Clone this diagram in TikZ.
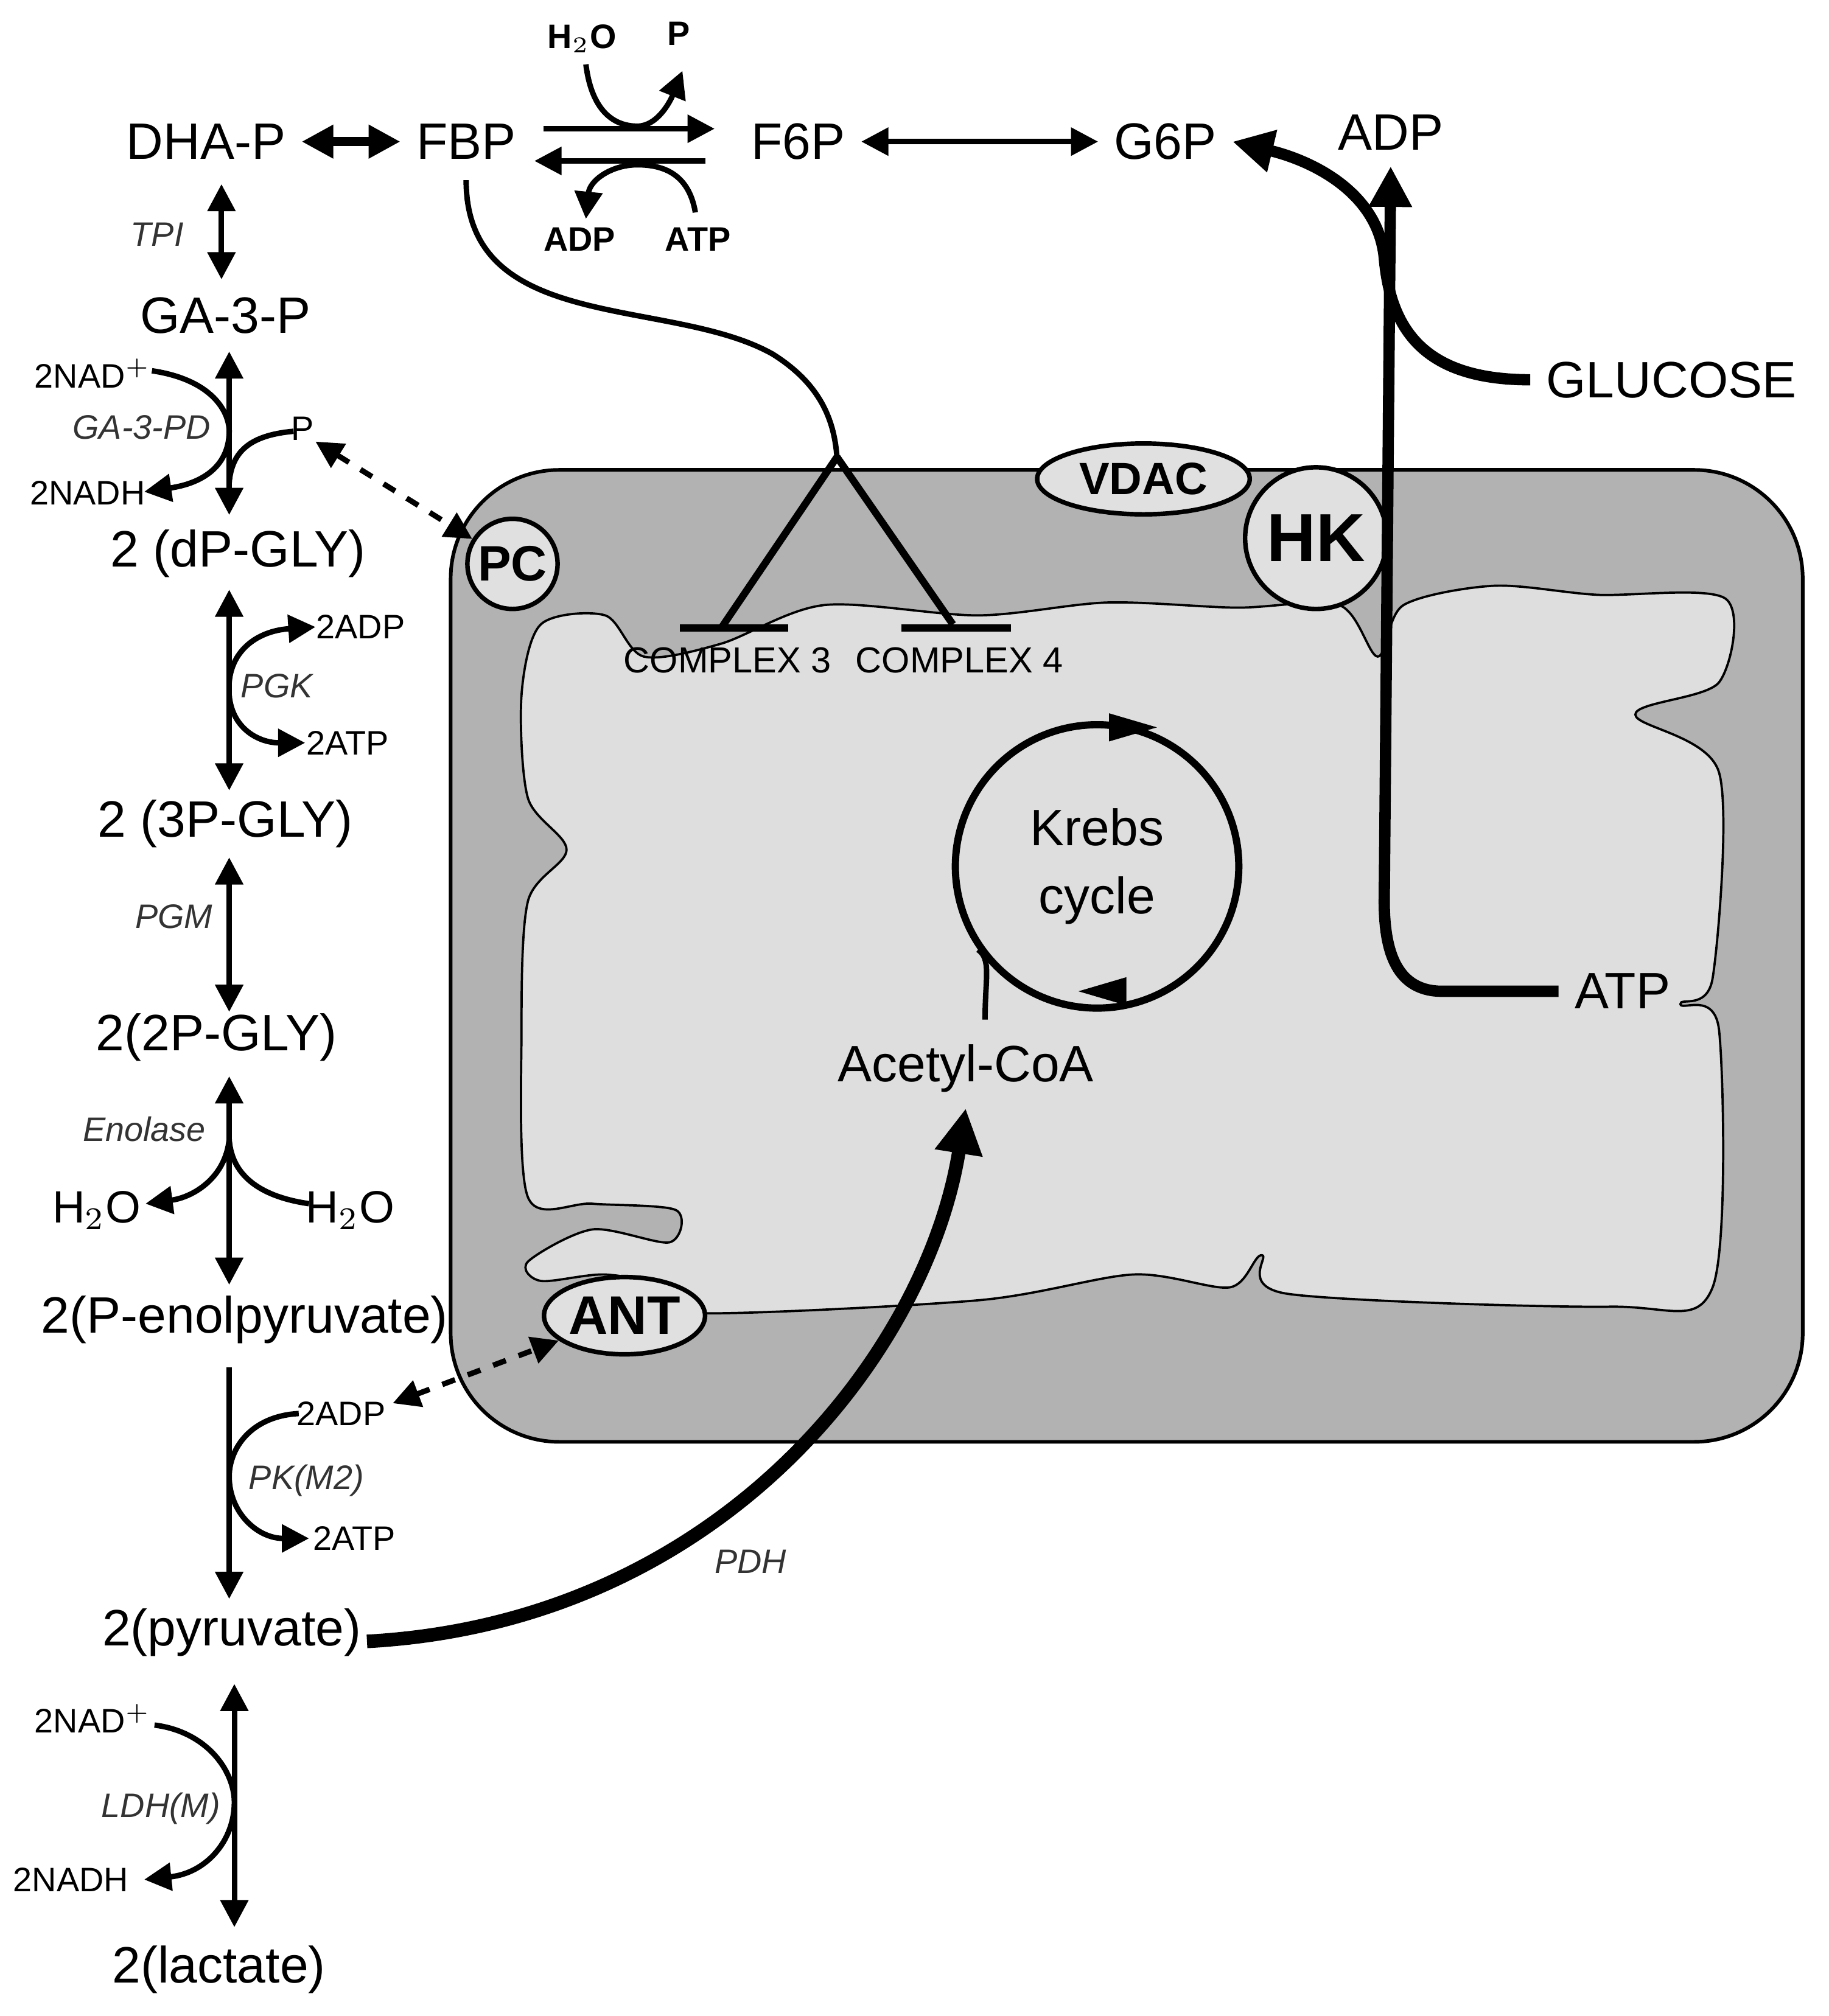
\documentclass[tikz,border=0pt]{standalone}
\usepackage{fontspec}
\setmainfont{Liberation Sans}
\usetikzlibrary{arrows.meta,shapes.geometric}
\begin{document}
\begin{tikzpicture}[x=0.01cm,y=-0.01cm,
 big/.style={font=\fontsize{11.3}{14}\selectfont},
 sm/.style={font=\fontsize{7.5}{9}\selectfont},
 en/.style={font=\fontsize{7.5}{9}\selectfont\itshape, text=black!80},
 bsm/.style={font=\fontsize{7.5}{9}\selectfont\bfseries},
 ar/.style={line width=1.2pt,-{Triangle[length=6pt,width=6pt]}},
 dar/.style={line width=1.2pt,{Triangle[length=6pt,width=6pt]}-{Triangle[length=6pt,width=6pt]}},
 dashar/.style={line width=1.2pt,dashed,{Triangle[length=6pt,width=6pt]}-{Triangle[length=6pt,width=6pt]}},
 prot/.style={draw,line width=1pt,fill=black!12,font=\bfseries}]
\useasboundingbox (0,0) rectangle (1420,1566);
% mitochondrion
\draw[fill=black!30,line width=0.8pt,rounded corners=24pt] (350,365) rectangle (1400,1120);
\draw[fill=black!13,line width=0.5pt] plot[smooth cycle,tension=0.5] coordinates{
(420,485)(470,478)(500,510)(560,500)(640,470)(760,478)(860,468)(960,472)(1040,470)(1070,510)(1090,470)(1160,455)(1240,462)(1340,465)
(1335,530)(1270,555)(1335,600)(1330,760)(1305,780)(1335,800)(1330,1000)(1250,1015)(1000,1005)(980,975)(955,1000)(880,990)(760,1010)(540,1020)
(520,1000)(470,990)(420,995)(410,980)(460,955)(520,965)(525,940)(460,935)(410,930)(405,800)(410,700)(440,660)(410,620)(405,540)};
\node[prot,ellipse,minimum width=1.65cm,minimum height=0.55cm,inner sep=0] (vdac) at (888,372) {\fontsize{10}{12}\selectfont VDAC};
\node[prot,circle,minimum size=1.1cm,inner sep=0] (hk) at (1022,418) {\fontsize{15}{17}\selectfont HK};
\node[prot,circle,minimum size=0.7cm,inner sep=0] (pc) at (398,438) {\fontsize{11}{13}\selectfont PC};
\node[prot,ellipse,minimum width=1.25cm,minimum height=0.6cm,inner sep=0] (ant) at (485,1022) {\fontsize{12}{14}\selectfont ANT};
% complexes
\coordinate (c3l) at (528,488); \coordinate (c3r) at (612,488);
\coordinate (c4l) at (700,488); \coordinate (c4r) at (785,488);
\draw[line width=1.6pt] (c3l)--(c3r); \draw[line width=1.6pt] (c4l)--(c4r);
\node[font=\fontsize{8}{10}\selectfont] (cx3) at (565,513) {COMPLEX 3};
\node[font=\fontsize{8}{10}\selectfont] (cx4) at (745,513) {COMPLEX 4};
% top
\node[big] (dhap) at (160,110) {DHA-P};
\node[big] (fbp) at (362,110) {FBP};
\node[big] (f6p) at (620,110) {F6P};
\node[big] (g6p) at (905,110) {G6P};
\node[big] (adp) at (1080,103) {ADP};
\node[big] (glu) at (1298,295) {GLUCOSE};
\node[big] (atp) at (1260,770) {ATP};
\node[bsm] (h2ot) at (452,30) {H$_2$O};
\node[bsm] (pt) at (527,26) {P};
\node[bsm] (adpt) at (450,186) {ADP};
\node[bsm] (atpt) at (542,186) {ATP};
\draw[line width=2pt,{Triangle[length=7pt,width=7pt]}-{Triangle[length=7pt,width=7pt]}] (dhap)--(fbp);
\draw[ar] (422,100)--(555,100);
\draw[ar] (548,125)--(415,125);
\draw[ar] (455,50) .. controls (460,90) and (480,98) .. (495,98) .. controls (510,98) and (520,80) .. (530,55);
\draw[ar] (540,165) .. controls (535,135) and (515,128) .. (495,128) .. controls (475,128) and (458,140) .. (455,170);
\draw[dar] (f6p)--(g6p);
% inhibition
\coordinate (br) at (650,355);
\draw[line width=1.2pt] (362,140) .. controls (362,260) and (520,230) .. (600,275) .. controls (640,300) and (648,330) .. (br);
\draw[line width=1.6pt] (br)--(560,488);
\draw[line width=1.6pt] (br)--(740,485);
% HK arrows
\draw[line width=2.5pt,-{Triangle[length=9pt,width=9pt]}] (atp.west)--(1120,770) .. controls (1085,770) and (1075,740) .. (1075,700) -- (adp.south);
\draw[line width=2.5pt,-{Triangle[length=9pt,width=9pt]}] (glu.west) .. controls (1110,295) and (1080,260) .. (1075,200) .. controls (1070,150) and (1020,125) .. (g6p.east);
% Krebs
\node[circle,draw,line width=1.6pt,minimum size=2.2cm,inner sep=0,align=center,font=\fontsize{11.3}{15}\selectfont] (kr) at (852,673) {Krebs\\cycle};
\draw[fill=black] (862,555)--(896,565)--(862,575)--cycle;
\draw[fill=black] (874,760)--(840,770)--(874,780)--cycle;
\node[big] (acoa) at (750,830) {Acetyl-CoA};
\draw[line width=1.2pt] (765,792) .. controls (765,760) and (770,745) .. (kr.-145);
\draw[line width=3pt,-{Triangle[length=10pt,width=10pt]}] (285,1275) .. controls (560,1260) and (720,1050) .. (acoa.south);
\node[en] (pdh) at (583,1213) {PDH};
% glycolysis
\node[big] (ga3p) at (175,245) {GA-3-P};
\node[big] (dpg) at (185,430) {2 (dP-GLY)};
\node[big] (p3g) at (175,640) {2 (3P-GLY)};
\node[big] (p2g) at (168,806) {2(2P-GLY)};
\node[big] (pep) at (190,1025) {2(P-enolpyruvate)};
\node[big] (pyr) at (180,1268) {2(pyruvate)};
\node[big] (lac) at (170,1530) {2(lactate)};
\node[en] at (122,182) {TPI};
\node[en] at (110,332) {GA-3-PD};
\node[en] at (215,533) {PGK};
\node[en] at (135,712) {PGM};
\node[en] at (112,877) {Enolase};
\node[en] at (238,1150) {PK(M2)};
\node[en] at (125,1405) {LDH(M)};
\node[sm] (nad1) at (72,290) {2NAD$^+$};
\node[sm] (nadh1) at (68,383) {2NADH};
\node[sm] (pp) at (235,333) {P};
\node[sm] (adp1) at (280,487) {2ADP};
\node[sm] (atp1) at (270,577) {2ATP};
\node[font=\fontsize{10}{12}\selectfont] (wl) at (75,940) {H$_2$O};
\node[font=\fontsize{10}{12}\selectfont] (wr) at (272,940) {H$_2$O};
\node[sm] (adp2) at (265,1098) {2ADP};
\node[sm] (atp2) at (275,1195) {2ATP};
\node[sm] (nad2) at (72,1335) {2NAD$^+$};
\node[sm] (nadh2) at (55,1460) {2NADH};
\draw[dar] (172,143)--(172,217);
\draw[dar] (178,273)--(178,400);
\draw[dar] (178,458)--(178,614);
\draw[dar] (178,666)--(178,786);
\draw[dar] (178,836)--(178,998);
\draw[ar] (178,1062)--(178,1242);
\draw[dar] (182,1308)--(182,1497);
\draw[ar] (118,288) .. controls (165,295) and (178,320) .. (178,335) .. controls (178,360) and (160,375) .. (112,382);
\draw[line width=1.2pt] (228,335) .. controls (195,338) and (180,350) .. (178,375);
\draw[dashar] (245,343)--(pc);
\draw[ar] (178,530) .. controls (180,505) and (200,490) .. (245,487);
\draw[ar] (178,540) .. controls (180,565) and (200,577) .. (237,577);
\draw[ar] (178,885) .. controls (175,915) and (150,930) .. (113,935);
\draw[line width=1.2pt] (240,935) .. controls (205,930) and (180,915) .. (178,885);
\draw[ar] (232,1098) .. controls (195,1100) and (178,1125) .. (178,1147) .. controls (178,1175) and (200,1195) .. (240,1195);
\draw[dashar] (305,1090)--(ant);
\draw[ar] (120,1340) .. controls (160,1345) and (182,1375) .. (182,1400) .. controls (182,1430) and (160,1455) .. (112,1460);
\end{tikzpicture}
\end{document}
